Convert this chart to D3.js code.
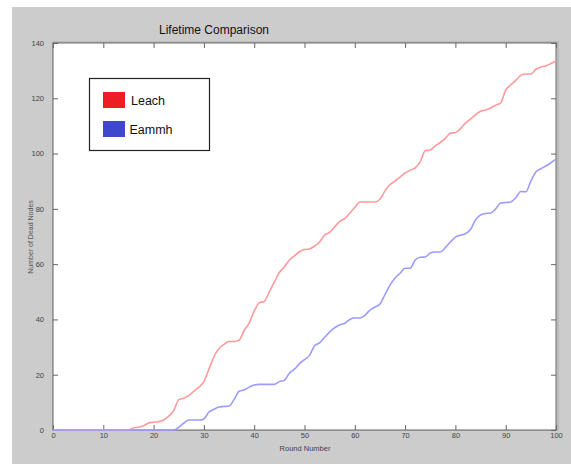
<!DOCTYPE html>
<html>
<head>
<meta charset="utf-8">
<script src="https://cdn.jsdelivr.net/npm/d3@7"></script>
<style>
  body { margin: 0; background: #fff; }
  text { font-family: "Liberation Sans", Arial, sans-serif; }
</style>
</head>
<body>
<svg id="chart" width="571" height="464"></svg>
<script>
// rounds 0..100, dead nodes
var rounds = d3.range(0, 101);
var leach = [0,0,0,0,0,0,0,0,0,0, 0,0,0,0,0,0,0.8,1,1.5,2.5,
  2.8,3,3.6,5,7,11,11.5,12.5,14,15.5, 17.5,22,26.5,29.5,31,32,32,32.5,36,38.7,
  43,46,46.5,50,53.5,57,59,61.5,63,64.5, 65.3,65.5,66.5,68,70.5,71.5,73.5,75.5,76.5,78.5,
  80.5,82.5,82.5,82.5,82.5,83.5,86.5,88.8,90,91.5, 93,94,94.8,97,101,101.3,102.8,104,105.5,107.4,
  107.6,109,111,112.5,114,115.3,115.8,116.5,117.5,118.3, 123,124.8,126.5,128.3,128.8,128.8,130.5,131.3,131.7,132.6,
  133.5];
var eammh = [0,0,0,0,0,0,0,0,0,0, 0,0,0,0,0,0,0,0,0,0,
  0,0,0,0,0,1,2.5,3.6,3.6,3.6, 4,6.5,7.5,8.3,8.5,8.7,11,14,14.5,15.5,
  16.3,16.5,16.5,16.5,16.5,17.5,18,20.5,22,24, 25.5,27,30.5,31.5,33.5,35.5,37,38,38.6,40,
  40.5,40.5,41.5,43.4,44.5,45.6,49,52.4,55,56.7, 58.5,58.5,61.5,62.5,62.6,64,64.4,64.4,66,68,
  69.8,70.5,71,72.5,76,77.8,78.3,78.5,80,82.1, 82.3,82.5,84,86.3,86.2,90,93.3,94.5,95.5,96.7,
  98];
var seriesNames = ["Leach", "Eammh"];
var lineColors = ["#ff9a9a", "#9c9cff"];
var legendColors = ["#ee1c25", "#3f48cc"];
var xTicks = d3.range(0, 101, 10);
var yTicks = d3.range(0, 141, 20);

var svg = d3.select("#chart");
var narrow = "'Liberation Sans Narrow', 'Liberation Sans', Arial, sans-serif";

// gray figure background
svg.append("rect").attr("x", 12).attr("y", 7).attr("width", 559).attr("height", 457)
  .attr("fill", "#cccccc");

// note: "top" is taken by window.top, so plot edges get their own names
var pL = 53, pR = 556, pT = 43, pB = 430;
var x = d3.scaleLinear().domain([0, 100]).range([pL, pR]);
var y = d3.scaleLinear().domain([0, 140]).range([pB, pT]);

// plot area with a little shadow on the right
svg.append("rect").attr("x", pL).attr("y", pT - 1).attr("width", pR - pL + 2).attr("height", pB - pT + 1)
  .attr("fill", "none").attr("stroke", "#a8a8a8").attr("stroke-width", 1);
svg.append("rect").attr("x", pL).attr("y", pT).attr("width", pR - pL).attr("height", pB - pT)
  .attr("fill", "#fff").attr("stroke", "#666").attr("stroke-width", 1);

// ticks inward on all sides
var axB = svg.append("g").attr("transform", "translate(0," + pB + ")")
  .call(d3.axisBottom(x).tickValues(xTicks).tickSize(-5).tickPadding(3));
var axT = svg.append("g").attr("transform", "translate(0," + pT + ")")
  .call(d3.axisTop(x).tickValues(xTicks).tickSize(-5).tickFormat(""));
var axL = svg.append("g").attr("transform", "translate(" + pL + ",0)")
  .call(d3.axisLeft(y).tickValues(yTicks).tickSize(-5).tickPadding(9));
var axR = svg.append("g").attr("transform", "translate(" + pR + ",0)")
  .call(d3.axisRight(y).tickValues(yTicks).tickSize(-5).tickFormat(""));

[axB, axT, axL, axR].forEach(function(a) {
  a.select(".domain").remove();
  a.selectAll(".tick line").attr("stroke", "#666");
  a.selectAll("text").attr("fill", "#444").attr("font-size", 7.5).attr("font-family", narrow);
});

// lines
var line = d3.line()
  .x(function(d, i) { return x(rounds[i]); })
  .y(function(d) { return y(d); })
  .curve(d3.curveMonotoneX);

[leach, eammh].forEach(function(vals, k) {
  svg.append("path").datum(vals)
    .attr("d", line)
    .attr("fill", "none")
    .attr("stroke", lineColors[k])
    .attr("stroke-width", 1.6);
});

// title and labels
svg.append("text").attr("x", 214).attr("y", 34).attr("text-anchor", "middle")
  .attr("font-size", 12).attr("fill", "#111").attr("font-family", narrow)
  .text("Lifetime Comparison");
svg.append("text").attr("x", 305).attr("y", 451).attr("text-anchor", "middle")
  .attr("font-size", 7.5).attr("fill", "#444").attr("font-family", narrow)
  .text("Round Number");
svg.append("text").attr("transform", "translate(33,237) rotate(-90)").attr("text-anchor", "middle")
  .attr("font-size", 7).attr("fill", "#555").attr("font-family", narrow)
  .text("Number of Dead Nodes");

// legend
var lg = svg.append("g");
lg.append("rect").attr("x", 89.5).attr("y", 78.5).attr("width", 120).attr("height", 72)
  .attr("fill", "#fff").attr("stroke", "#222").attr("stroke-width", 1.2);
seriesNames.forEach(function(name, k) {
  lg.append("rect").attr("x", 103).attr("y", 92 + k * 29).attr("width", 22).attr("height", 16)
    .attr("fill", legendColors[k]);
  lg.append("text").attr("x", 131 - k * 1.5).attr("y", 105 + k * 29)
    .attr("font-size", 12.5).attr("fill", "#111").text(name);
});
</script>
</body>
</html>
